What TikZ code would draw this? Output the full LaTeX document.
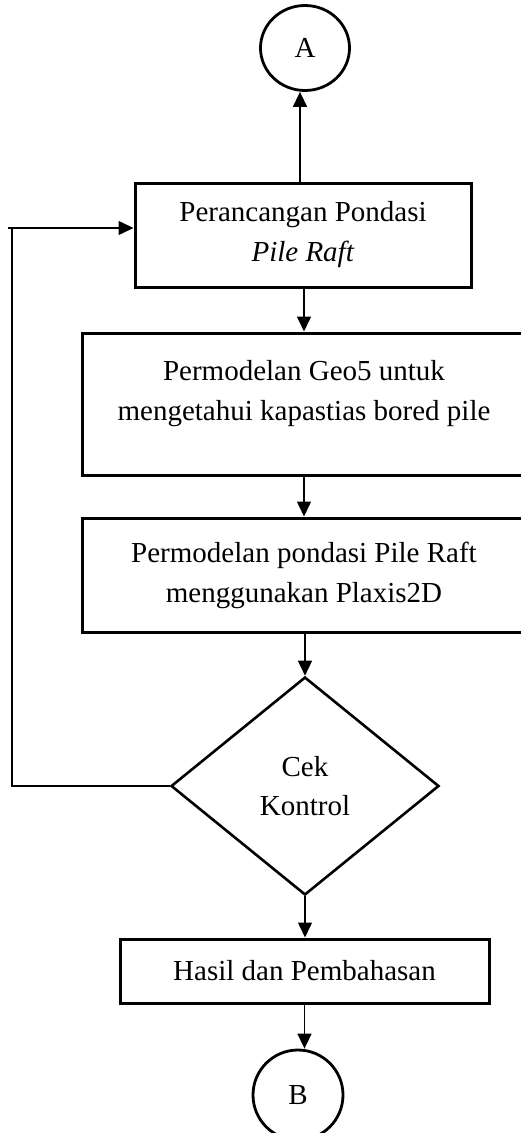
\documentclass[tikz,border=0pt]{standalone}
\usepackage{fontspec}
\setmainfont{Liberation Serif}
\usetikzlibrary{shapes.geometric,arrows.meta}
\begin{document}
\begin{tikzpicture}[x=1pt,y=-1pt,
  txt/.style={inner sep=0pt,align=center,font=\fontsize{29}{40}\selectfont},
  box/.style={txt,draw,line width=3pt,rectangle},
  conn/.style={line width=1.5pt},
  arr/.style={conn,-{Triangle[length=15pt,width=14pt]}},
  term/.style={txt,draw,line width=2.8pt,ellipse},
  decide/.style={txt,draw,line width=2.6pt,diamond,font=\fontsize{29}{39}\selectfont}
]
\useasboundingbox (0,0) rectangle (520,1133);
\node[term,minimum width=89pt,minimum height=85pt] (A) at (305,48) {A};
\node[box,minimum width=336pt,minimum height=104pt] (r1) at (303,235) {Perancangan Pondasi\\\textit{Pile Raft}};
\node[box,minimum width=444pt,minimum height=142pt] (r2) at (304,404) {};
\node[txt] (r2t) at (304,394) {Permodelan Geo5 untuk\\mengetahui kapastias bored pile};
\node[box,minimum width=444pt,minimum height=114pt] (r3) at (304,575) {Permodelan pondasi Pile Raft\\menggunakan Plaxis2D};
\node[decide,minimum width=268pt,minimum height=218pt] (D) at (305,786) {Cek\\Kontrol};
\node[box,minimum width=369pt,minimum height=64pt] (r4) at (304.5,971) {Hasil dan Pembahasan};
\node[term,minimum width=90pt,minimum height=90pt] (B) at (298,1095) {B};
\coordinate (fbA) at (12,786);
\coordinate (fbB) at (12,228);
\coordinate (fbC) at (8,228);
\coordinate (aA) at (300,0);
\draw[arr] (r1.north -| aA) -- (A.south -| aA);
\draw[arr] (r1.south -| r2.north) -- (r2.north);
\draw[arr] (r2.south) -- (r3.north);
\draw[arr] (r3.south -| D.north) -- (D.north);
\draw[arr] (D.south) -- (D.south |- r4.north);
\draw[arr] (r4.south) -- (r4.south |- B.north);
\draw[conn] (D.west) -- (fbA) -- (fbB);
\draw[arr] (fbC) -- (r1.west |- fbC);
\end{tikzpicture}
\end{document}
